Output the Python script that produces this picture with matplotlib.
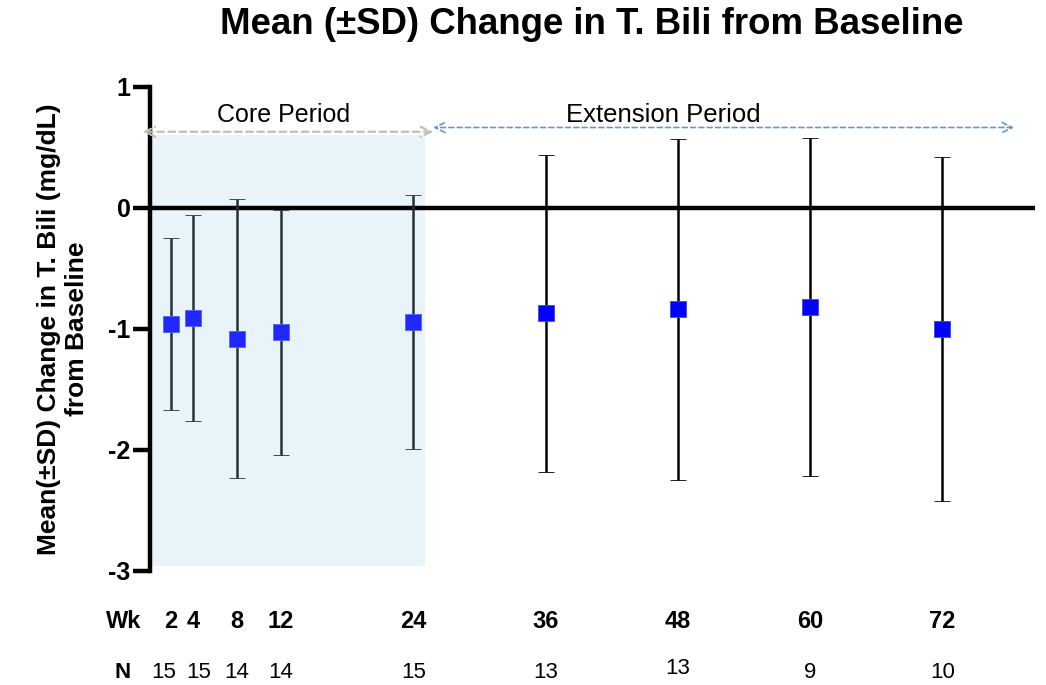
import matplotlib
matplotlib.use("Agg")
import matplotlib.pyplot as plt
import matplotlib.transforms as mtransforms

plt.rcParams['font.family'] = ['Liberation Sans', 'DejaVu Sans']

# visit weeks, mean change and SD of total bilirubin (mg/dL), patients per visit
weeks = [2, 4, 8, 12, 24, 36, 48, 60, 72]
mean_chg = [-0.96, -0.91, -1.08, -1.03, -0.94, -0.87, -0.84, -0.82, -1.00]
sd_chg = [0.71, 0.85, 1.15, 1.01, 1.05, 1.31, 1.41, 1.40, 1.42]
n_pts = [15, 15, 14, 14, 15, 13, 13, 9, 10]
core_weeks = 5  # first five visits are in the core period

fig = plt.figure(figsize=(10.46, 6.85), dpi=100)
ax = fig.add_axes([0.1434, 0.1669, 0.8461, 0.7061])

ax.set_xlim(0.12, 80.4)
ax.set_ylim(-3, 1)

# core period background
ax.axvspan(0.12, 25.05, ymin=0.01, ymax=0.9, color='#e8f4fa', zorder=0, lw=0)

# zero reference line
ax.axhline(0, color='black', lw=3.2, zorder=1)

ax.errorbar(weeks[:core_weeks], mean_chg[:core_weeks], yerr=sd_chg[:core_weeks],
            fmt='s', color='#2028ff', ms=12, mec='#5060ff', mew=0.6,
            ecolor='#263238', elinewidth=1.8, capsize=6, capthick=1.8, zorder=3)
ax.errorbar(weeks[core_weeks:], mean_chg[core_weeks:], yerr=sd_chg[core_weeks:],
            fmt='s', color='#0000ff', ms=12, mec='#4040ff', mew=0.6,
            ecolor='black', elinewidth=1.8, capsize=6, capthick=1.8, zorder=3)

# period arrows
ax.annotate('', xy=(-0.55, 0.63), xytext=(25.8, 0.63),
            arrowprops=dict(arrowstyle='<->', color='#bdbdbd', lw=1.6,
                            linestyle=(0, (3, 2)), mutation_scale=18,
                            shrinkA=0, shrinkB=0),
            annotation_clip=False)
ax.annotate('', xy=(25.8, 0.665), xytext=(78.5, 0.665),
            arrowprops=dict(arrowstyle='<->', color='#5b9bd5', lw=1.2,
                            linestyle=(0, (3, 2)), mutation_scale=18,
                            shrinkA=0, shrinkB=0),
            annotation_clip=False)
ax.text(12.2, 0.77, 'Core Period', ha='center', va='center', fontsize=18)
ax.text(46.7, 0.77, 'Extension Period', ha='center', va='center', fontsize=18.5)

# axes styling
for side in ['top', 'right', 'bottom']:
    ax.spines[side].set_visible(False)
ax.spines['left'].set_linewidth(3.2)
ax.set_xticks([])
ax.set_yticks([1, 0, -1, -2, -3])
ax.set_yticklabels(['1', '0', '-1', '-2', '-3'], fontweight='bold', fontsize=18)
ax.tick_params(axis='y', direction='out', length=12, width=3.2, pad=2)

ax.set_ylabel('Mean(±SD) Change in T. Bili (mg/dL)\nfrom Baseline',
              fontsize=19, fontweight='bold', linespacing=1.2, labelpad=14)

fig.suptitle('Mean (±SD) Change in T. Bili from Baseline',
             fontsize=26.4, fontweight='bold', x=0.566, y=0.99, va='top')

# week and N rows under the plot
trans = mtransforms.blended_transform_factory(ax.transData, fig.transFigure)
y_wk = 1 - 622 / 685
y_n = 1 - 673 / 685
fig.text(124 / 1046, y_wk, 'Wk', ha='center', va='center', fontsize=17,
         fontweight='bold')
fig.text(123 / 1046, y_n, 'N', ha='center', va='center', fontsize=16,
         fontweight='bold')
# nudges (points) for N labels that sit too close together
n_shift = {2: (-5, 0), 4: (4, 0), 48: (0, 3)}
for w, n in zip(weeks, n_pts):
    ax.text(w, y_wk, str(w), transform=trans, ha='center', va='center',
            fontsize=17, fontweight='bold')
    ax.annotate(str(n), xy=(w, y_n), xycoords=trans,
                xytext=n_shift.get(w, (0, 0)), textcoords='offset points',
                ha='center', va='center', fontsize=16)

fig.savefig('out.png', dpi=100)
plt.close(fig)
